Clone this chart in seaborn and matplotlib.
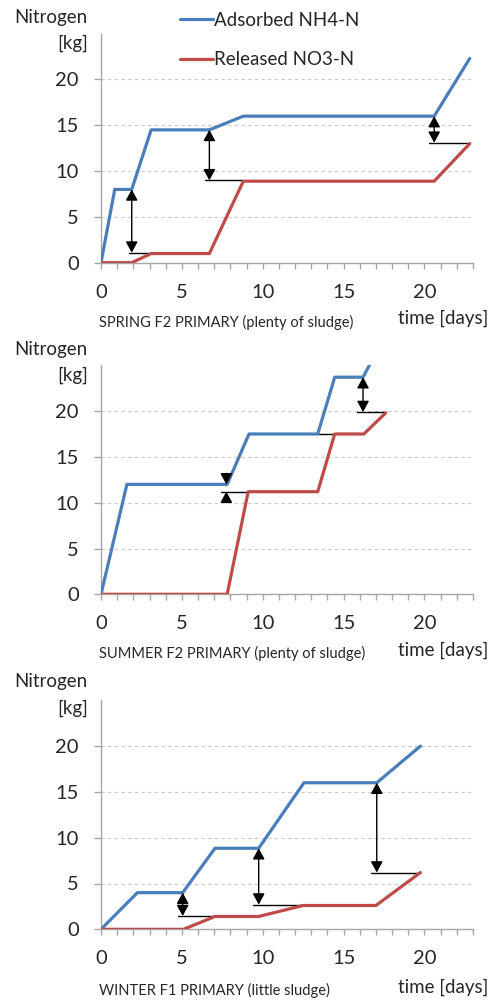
import matplotlib
matplotlib.use("Agg")
import matplotlib.pyplot as plt
import seaborn as sns
from matplotlib.lines import Line2D
from matplotlib.ticker import MultipleLocator

# --- data ------------------------------------------------------------------
spring_days_nh4 = [0, 0.85, 1.9, 3.1, 6.7, 8.8, 20.6, 22.8]
spring_nh4 = [0, 8.0, 8.0, 14.5, 14.5, 16.0, 16.0, 22.3]
spring_days_no3 = [0, 1.9, 3.1, 6.7, 8.8, 20.6, 22.8]
spring_no3 = [0, 0, 1.0, 1.0, 8.9, 8.9, 13.0]

summer_days_nh4 = [0, 1.6, 7.8, 9.15, 13.4, 14.45, 16.2, 17.5]
summer_nh4 = [0, 12.0, 12.0, 17.5, 17.5, 23.7, 23.7, 28.0]
summer_days_no3 = [0, 7.8, 9.1, 13.4, 14.45, 16.25, 17.6]
summer_no3 = [0, 0, 11.2, 11.2, 17.5, 17.5, 19.8]

winter_days_nh4 = [0, 2.25, 5.05, 7.05, 9.75, 12.55, 17.05, 19.75]
winter_nh4 = [0, 4.0, 4.0, 8.85, 8.85, 16.0, 16.0, 20.0]
winter_days_no3 = [0, 5.1, 7.05, 9.75, 12.5, 17.0, 19.75]
winter_no3 = [0, 0, 1.4, 1.4, 2.6, 2.6, 6.2]

# double arrows (day, upper, lower) and reference lines (level, from, to)
spring_arrows = [(1.9, 8.0, 1.1), (6.7, 14.5, 9.0), (20.6, 16.0, 13.1)]
spring_refs = [(1.1, 1.75, 3.0), (9.0, 6.45, 8.7), (13.1, 20.3, 22.8)]
summer_arrows = [(16.2, 23.7, 19.9)]
summer_refs = [(11.2, 7.45, 9.1), (19.9, 15.85, 17.6), (17.5, 13.4, 14.45)]
summer_pointers = [(7.75, 13.2, 12.0), (7.75, 10.0, 11.2)]  # (day, from, tip)
winter_arrows = [(5.05, 4.0, 1.45), (9.75, 8.85, 2.7), (17.05, 16.0, 6.2)]
winter_refs = [(1.45, 4.75, 7.0), (2.7, 9.4, 12.5), (6.2, 16.7, 19.75)]

panel_titles = ["SPRING F2 PRIMARY (plenty of sludge)",
                "SUMMER F2 PRIMARY (plenty of sludge)",
                "WINTER F1 PRIMARY (little sludge)"]
series_labels = ["Adsorbed NH4-N", "Released NO3-N"]

BLUE = "#4a7ebb"
RED = "#be4b48"
AXIS_GRAY = "#a6a6a6"
HEAD = "head_length=0.55,head_width=0.3"

sns.set_style("white")
plt.rcParams["font.family"] = ["Lato", "DejaVu Sans"]

W, H = 490, 1000
fig = plt.figure(figsize=(W / 100, H / 100), dpi=100)


def px(x, y):
    return x / W, 1 - y / H


def ftext(x, y, s, **kw):
    fx, fy = px(x, y)
    fig.text(fx, fy, s, va="center", **kw)


panels = [
    dict(bottom=262.7, nh4=(spring_days_nh4, spring_nh4), no3=(spring_days_no3, spring_no3),
         arrows=spring_arrows, refs=spring_refs, pointers=[],
         nitro=17, kg=43, time=318, title=322),
    dict(bottom=594.3, nh4=(summer_days_nh4, summer_nh4), no3=(summer_days_no3, summer_no3),
         arrows=summer_arrows, refs=summer_refs, pointers=summer_pointers,
         nitro=350, kg=375, time=650, title=653),
    dict(bottom=929.3, nh4=(winter_days_nh4, winter_nh4), no3=(winter_days_no3, winter_no3),
         arrows=winter_arrows, refs=winter_refs, pointers=[],
         nitro=682, kg=708, time=987, title=990),
]

left_px, right_px, height_px = 101, 473, 229

for i, p in enumerate(panels):
    ax = fig.add_axes([left_px / W, 1 - p["bottom"] / H,
                       (right_px - left_px) / W, height_px / H])

    for lvl, x0, x1 in p["refs"]:
        ax.plot([x0, x1], [lvl, lvl], color="black", lw=1.0, zorder=2)

    sns.lineplot(x=p["nh4"][0], y=p["nh4"][1], ax=ax, color=BLUE, lw=2.3,
                 estimator=None, sort=False, zorder=3)
    sns.lineplot(x=p["no3"][0], y=p["no3"][1], ax=ax, color=RED, lw=2.3,
                 estimator=None, sort=False, zorder=3)

    for d, top, bot in p["arrows"]:
        ax.annotate("", xy=(d, bot), xytext=(d, top),
                    arrowprops=dict(arrowstyle="<|-|>," + HEAD, color="black", lw=1.0,
                                    mutation_scale=12, shrinkA=0, shrinkB=0),
                    zorder=4)
    for d, start, tip in p["pointers"]:
        ax.annotate("", xy=(d, tip), xytext=(d, start),
                    arrowprops=dict(arrowstyle="-|>," + HEAD, color="black", lw=1.0,
                                    mutation_scale=12, shrinkA=0, shrinkB=0),
                    zorder=4)

    ax.set_xlim(0, 23)
    ax.set_ylim(0, 25)
    ax.xaxis.set_major_locator(MultipleLocator(5))
    ax.xaxis.set_minor_locator(MultipleLocator(1))
    ax.set_yticks([0, 5, 10, 15, 20])
    for y in [5, 10, 15, 20]:
        ax.axhline(y, color="#c8c8c8", lw=0.8, ls=(0, (3, 3)), zorder=1)

    for s in ["top", "right"]:
        ax.spines[s].set_visible(False)
    for s in ["left", "bottom"]:
        ax.spines[s].set_color(AXIS_GRAY)
        ax.spines[s].set_linewidth(1.0)
    ax.tick_params(axis="x", which="both", direction="out", length=4,
                   color=AXIS_GRAY, width=1.0, labelsize=14.5, pad=11, bottom=True)
    ax.tick_params(axis="y", direction="out", length=5, color=AXIS_GRAY,
                   width=1.0, labelsize=14.5, pad=11, left=True)
    ax.set_xlabel("")
    ax.set_ylabel("")
    ax.grid(False)

    ftext(88, p["nitro"], "Nitrogen", ha="right", fontsize=13.5)
    ftext(88, p["kg"], "[kg]", ha="right", fontsize=13.5)
    ftext(488, p["time"], "time [days]", ha="right", fontsize=13.5)
    ftext(99, p["title"], panel_titles[i], ha="left", fontsize=10.5)

handles = [Line2D([], [], color=BLUE, lw=2.3), Line2D([], [], color=RED, lw=2.3)]
lx, ly = px(176, 8)
fig.legend(handles, series_labels, loc="upper left", bbox_to_anchor=(lx, ly),
           frameon=False, fontsize=13.5, handlelength=1.75, handletextpad=0.1,
           labelspacing=1.2, borderaxespad=0, borderpad=0.2)

fig.savefig("out.png", dpi=100)
